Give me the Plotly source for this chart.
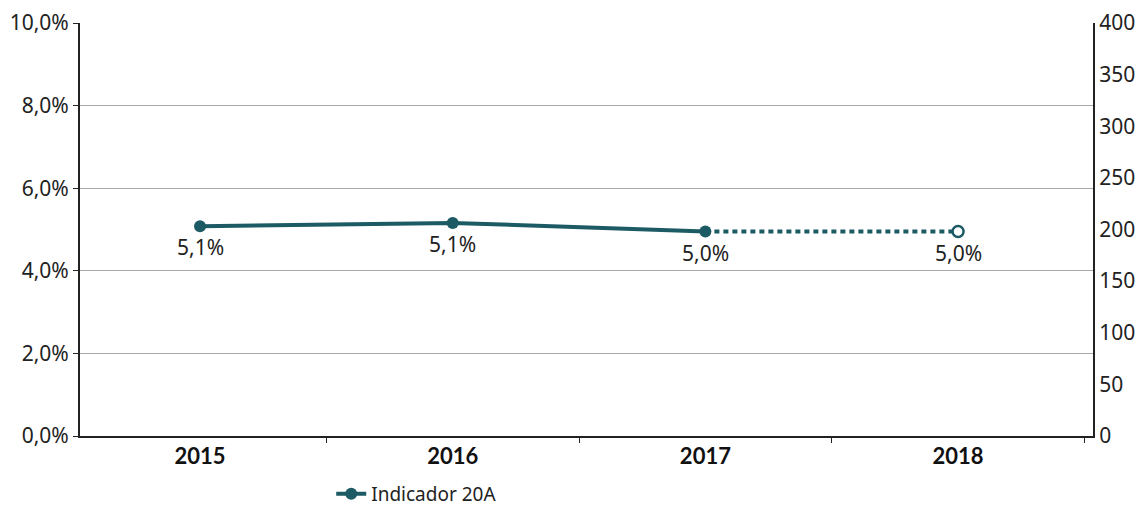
import plotly.graph_objects as go

years = ["2015", "2016", "2017", "2018"]
values = [5.08, 5.16, 4.95, 4.95]          # percent
labels = ["5,1%", "5,1%", "5,0%", "5,0%"]
series_name = "Indicador 20A"
y_ticks = [0, 2, 4, 6, 8, 10]
y_tick_text = ["0,0%", "2,0%", "4,0%", "6,0%", "8,0%", "10,0%"]
y2_ticks = [0, 50, 100, 150, 200, 250, 300, 350, 400]

TEAL = "#1c5a64"
FONT = "Noto Sans"

fig = go.Figure()

# actual values (solid)
fig.add_trace(go.Scatter(
    x=years[:3], y=values[:3], mode="lines+markers",
    line=dict(color=TEAL, width=4),
    marker=dict(color=TEAL, size=12),
    name=series_name, showlegend=True, cliponaxis=False,
))
# projection (dotted)
fig.add_trace(go.Scatter(
    x=years[2:], y=values[2:], mode="lines",
    line=dict(color=TEAL, width=4, dash="5px,4px"),
    showlegend=False, hoverinfo="skip",
))
fig.add_trace(go.Scatter(
    x=years[3:], y=values[3:], mode="markers",
    marker=dict(color="white", size=11, line=dict(color=TEAL, width=2.5)),
    showlegend=False, cliponaxis=False,
))
# invisible trace for secondary axis
fig.add_trace(go.Scatter(
    x=years, y=[None] * 4, yaxis="y2", showlegend=False, hoverinfo="skip",
))

# data labels below the points (category index positions)
for i, (v, lab) in enumerate(zip(values, labels)):
    fig.add_annotation(
        x=i, y=v, xref="x", yref="y", text=lab, showarrow=False,
        yshift=-21, yanchor="middle",
        font=dict(family=FONT, size=21, color="#222"),
    )

fig.update_layout(
    width=1138, height=507,
    margin=dict(l=80, r=45, t=23, b=71, autoexpand=False),
    paper_bgcolor="white", plot_bgcolor="white",
    font=dict(family=FONT, size=20, color="#222"),
    xaxis=dict(
        type="category", range=[-0.475, 3.534], automargin=False,
        showline=True, linecolor="#222", linewidth=2,
        ticks="outside", tickson="boundaries", ticklen=5, tickcolor="#222",
        showgrid=False,
        tickfont=dict(family="Lato", size=22, color="#111", weight="bold"),
    ),
    yaxis=dict(
        range=[0, 10], tickvals=y_ticks, ticktext=y_tick_text, automargin=False,
        showline=True, linecolor="#222", linewidth=2,
        ticks="outside", ticklen=5, tickcolor="#222",
        showgrid=True, gridcolor="#a8a8a8", gridwidth=1.3,
        zeroline=False,
        tickfont=dict(family=FONT, size=21, color="#222"),
    ),
    yaxis2=dict(
        overlaying="y", side="right", range=[0, 400], tickvals=y2_ticks,
        automargin=False,
        showline=True, linecolor="#222", linewidth=2,
        ticks="", showgrid=False, zeroline=False,
        tickfont=dict(family=FONT, size=21, color="#222"),
    ),
    legend=dict(
        orientation="h", x=0.248, xanchor="left", y=-0.14, yanchor="middle",
        font=dict(family=FONT, size=19, color="#222"),
    ),
)

fig.write_html("out.html")
